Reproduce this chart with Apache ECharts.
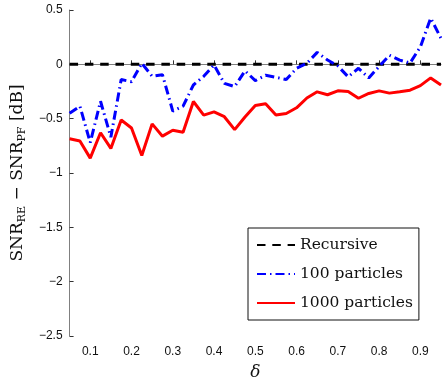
<!DOCTYPE html>
<html>
<head>
<meta charset="utf-8">
<script src="https://cdn.jsdelivr.net/npm/echarts@6/dist/echarts.min.js"></script>
<style>
  html, body { margin: 0; padding: 0; background: #fff; }
  #chart { width: 447px; height: 386px; }
</style>
</head>
<body>
<div id="chart"></div>
<script>
const deltas = [0.05, 0.075, 0.1, 0.125, 0.15, 0.175, 0.2, 0.225, 0.25, 0.275,
  0.3, 0.325, 0.35, 0.375, 0.4, 0.425, 0.45, 0.475, 0.5, 0.525,
  0.55, 0.575, 0.6, 0.625, 0.65, 0.675, 0.7, 0.725, 0.75, 0.775,
  0.8, 0.825, 0.85, 0.875, 0.9, 0.925, 0.95];

const recursive = deltas.map(() => 0);

const particles100 = [-0.45, -0.385, -0.72, -0.34, -0.67, -0.14, -0.16, 0.01, -0.11, -0.095,
  -0.43, -0.385, -0.19, -0.11, -0.006, -0.175, -0.205, -0.06, -0.15, -0.10,
  -0.12, -0.14, -0.036, 0.01, 0.11, 0.04, -0.015, -0.115, -0.036, -0.125,
  -0.02, 0.083, 0.039, 0.012, 0.16, 0.425, 0.24];

const particles1000 = [-0.685, -0.705, -0.863, -0.63, -0.774, -0.512, -0.586, -0.839, -0.548, -0.661,
  -0.607, -0.625, -0.342, -0.467, -0.438, -0.482, -0.601, -0.485, -0.378, -0.363,
  -0.467, -0.452, -0.40, -0.31, -0.253, -0.28, -0.244, -0.25, -0.312, -0.268,
  -0.244, -0.265, -0.253, -0.238, -0.196, -0.125, -0.19];

const xTicks = [0.1, 0.2, 0.3, 0.4, 0.5, 0.6, 0.7, 0.8, 0.9];

const SANS = "Liberation Sans, Arial, sans-serif";
const SERIF = "DejaVu Serif, Liberation Serif, serif";
const AXIS_COLOR = "#808080";

const pairs = (ys) => deltas.map((x, i) => [x, ys[i]]);

const chart = echarts.init(document.getElementById("chart"), null, { renderer: "canvas" });
chart.setOption({
  animation: false,
  grid: { left: 67, right: 6, top: 10, bottom: 40 },
  xAxis: {
    type: "value",
    min: 0.05,
    max: 0.95,
    name: "δ",
    nameLocation: "middle",
    nameGap: 28,
    nameTextStyle: { fontFamily: SERIF, fontStyle: "italic", fontSize: 17, color: "#111" },
    splitLine: { show: false },
    axisLine: { lineStyle: { color: AXIS_COLOR, width: 1 } },
    axisTick: { inside: true, length: 4, customValues: xTicks, lineStyle: { color: "#333" } },
    axisLabel: {
      customValues: xTicks,
      color: "#111",
      fontFamily: SANS,
      fontSize: 12,
      margin: 10,
      formatter: (v) => String(Math.round(v * 10) / 10),
    },
  },
  yAxis: {
    type: "value",
    min: -2.5,
    max: 0.5,
    interval: 0.5,
    name: "SNR{sub|RE} − SNR{sub|PF} [dB]",
    nameLocation: "middle",
    nameRotate: 90,
    nameGap: 32,
    nameTextStyle: {
      fontFamily: SERIF,
      fontSize: 17,
      color: "#111",
      lineHeight: 20,
      rich: {
        sub: { fontFamily: SERIF, fontSize: 11, lineHeight: 12, verticalAlign: "bottom", color: "#111" },
      },
    },
    splitLine: { show: false },
    axisLine: { show: true, lineStyle: { color: AXIS_COLOR, width: 1 } },
    axisTick: { show: true, inside: true, length: 4, lineStyle: { color: "#333" } },
    axisLabel: {
      color: "#111",
      fontFamily: SANS,
      fontSize: 12,
      margin: 7,
      formatter: (v) => String(v).replace("-", "−"),
    },
  },
  legend: {
    orient: "vertical",
    left: 248,
    top: 228,
    padding: [9, 6, 9, 8],
    itemGap: 13,
    itemWidth: 38,
    itemHeight: 14,
    itemStyle: { opacity: 0 },
    backgroundColor: "#fff",
    borderColor: "#111",
    borderWidth: 1,
    borderRadius: 0,
    textStyle: { fontFamily: SERIF, fontSize: 15.5, color: "#111" },
    data: ["Recursive", "100 particles", "1000 particles"],
  },
  series: [
    {
      name: "Recursive",
      type: "line",
      data: pairs(recursive),
      symbol: "none",
      lineStyle: { color: "#000", width: 3, type: [8.5, 6.8] },
      itemStyle: { color: "#000" },
      z: 3,
    },
    {
      name: "100 particles",
      type: "line",
      data: pairs(particles100),
      symbol: "none",
      lineStyle: { color: "#0000ff", width: 3, type: [9, 4, 1.5, 4] },
      itemStyle: { color: "#0000ff" },
      z: 4,
    },
    {
      name: "1000 particles",
      type: "line",
      data: pairs(particles1000),
      symbol: "none",
      lineStyle: { color: "#ff0000", width: 3 },
      itemStyle: { color: "#ff0000" },
      z: 5,
    },
  ],
});
</script>
</body>
</html>
